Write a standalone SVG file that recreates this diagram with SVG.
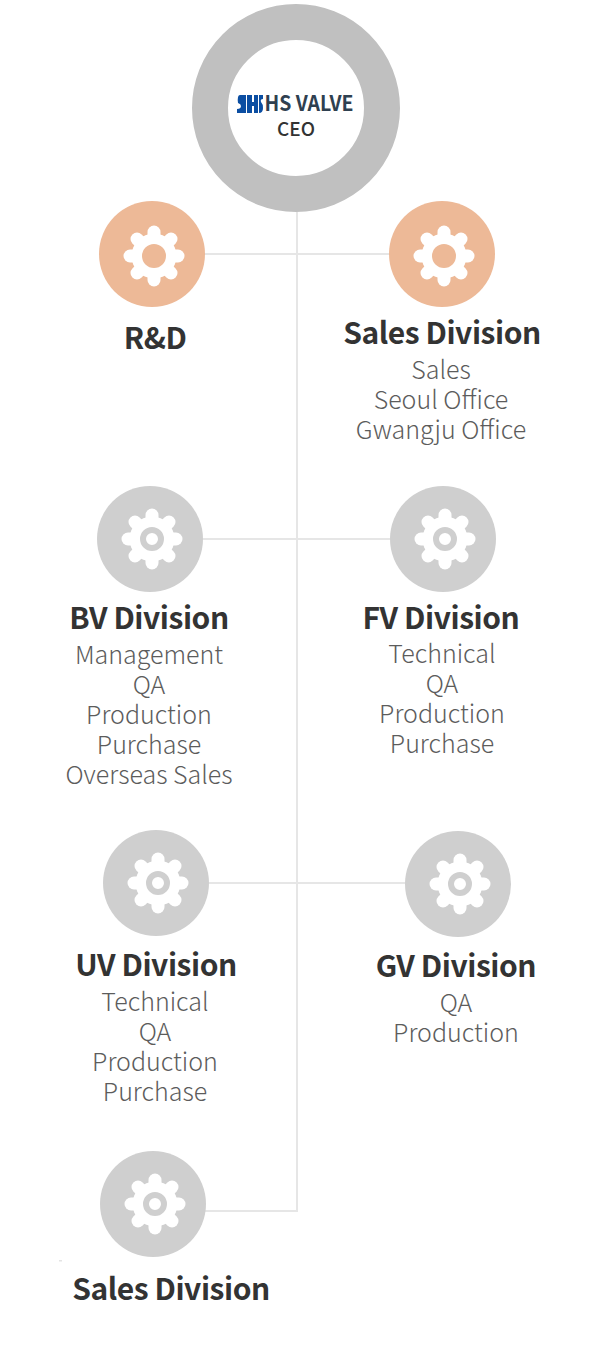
<svg xmlns="http://www.w3.org/2000/svg" xmlns:xlink="http://www.w3.org/1999/xlink" width="600" height="1350" viewBox="0 0 600 1350">
<style>
text{font-family:"Noto Sans CJK KR","Noto Sans",sans-serif;text-anchor:middle}
.t{font-size:30px;font-weight:700;fill:#333;letter-spacing:-.45px}
.s{font-size:25px;font-weight:300;fill:#5c5c5c}
.c{fill:none;stroke:#e6e6e6;stroke-width:2}
.o{fill:#edb997}.g{fill:#cfcfcf}
.h{fill:#fff;stroke:#cfcfcf;stroke-width:6}
</style>
<defs>
<g id="gear">
<circle r="22.500" fill="#fff"/>
<g stroke="#fff" stroke-width="13" stroke-linecap="round">
<line x1="-24" x2="24"/><line y1="-24" y2="24"/>
<line x1="-17" y1="-17" x2="17" y2="17"/><line x1="-17" y1="17" x2="17" y2="-17"/>
</g>
</g>
</defs>
<rect width="600" height="1350" fill="#fff"/>
<g id="connectors">
<path class="c" d="M297 205V1211H205"/>
<path class="c" d="M205 254H390"/>
<path class="c" d="M203 539H392"/>
<path class="c" d="M209 883H407"/>
</g>
<g id="ceo">
<circle cx="296" cy="108" r="86" fill="#fff" stroke="#c0c0c0" stroke-width="36"/>
<g id="logo-mark" fill="#0b4ea2">
<path d="M240 95h6v18h-9v-4q4 0 4-3q0-2-3-3q-1-8 2-8z"/>
<rect x="247" y="95" width="5" height="18"/>
<rect x="252" y="102" width="2" height="4"/>
<rect x="254" y="95" width="4" height="18"/>
<path d="M259 95h4v4q-3 0-2 3q2 2 2 6q0 5-4 5z"/>
</g>
<text x="309" y="111" font-size="21" font-weight="700" fill="#2f4050" textLength="89" lengthAdjust="spacingAndGlyphs">HS VALVE</text>
<text x="296" y="135.500" font-size="19" font-weight="500" fill="#333">CEO</text>
</g>
<g id="rd">
<circle class="o" cx="152" cy="254" r="53"/><use xlink:href="#gear" href="#gear" x="154" y="256"/><circle class="o" cx="154" cy="256" r="12"/>
<text class="t" x="155" y="349">R&amp;D</text>
</g>
<g id="sales-top">
<circle class="o" cx="442" cy="254" r="53"/><use xlink:href="#gear" href="#gear" x="444" y="256"/><circle class="o" cx="444" cy="256" r="12"/>
<text class="t" x="442" y="344">Sales Division</text>
<text class="s" x="441" y="379">Sales</text><text class="s" x="441" y="409">Seoul Office</text><text class="s" x="441" y="439">Gwangju Office</text>
</g>
<g id="bv">
<circle class="g" cx="150" cy="539" r="53"/><use xlink:href="#gear" href="#gear" x="152" y="539"/><circle class="h" cx="152" cy="539" r="9"/>
<text class="t" x="149" y="629">BV Division</text>
<text class="s" x="149" y="664">Management</text><text class="s" x="149" y="694">QA</text><text class="s" x="149" y="724">Production</text><text class="s" x="149" y="754">Purchase</text><text class="s" x="149" y="784">Overseas Sales</text>
</g>
<g id="fv">
<circle class="g" cx="443" cy="539" r="53"/><use xlink:href="#gear" href="#gear" x="445" y="539"/><circle class="h" cx="445" cy="539" r="9"/>
<text class="t" x="441" y="629">FV Division</text>
<text class="s" x="442" y="663">Technical</text><text class="s" x="442" y="693">QA</text><text class="s" x="442" y="723">Production</text><text class="s" x="442" y="753">Purchase</text>
</g>
<g id="uv">
<circle class="g" cx="156" cy="883" r="53"/><use xlink:href="#gear" href="#gear" x="158" y="883"/><circle class="h" cx="158" cy="883" r="9"/>
<text class="t" x="156" y="976">UV Division</text>
<text class="s" x="155" y="1011">Technical</text><text class="s" x="155" y="1041">QA</text><text class="s" x="155" y="1071">Production</text><text class="s" x="155" y="1101">Purchase</text>
</g>
<g id="gv">
<circle class="g" cx="458" cy="884" r="53"/><use xlink:href="#gear" href="#gear" x="460" y="884"/><circle class="h" cx="460" cy="884" r="9"/>
<text class="t" x="456" y="977">GV Division</text>
<text class="s" x="456" y="1012">QA</text><text class="s" x="456" y="1042">Production</text>
</g>
<g id="sales-bottom">
<circle class="g" cx="153" cy="1204" r="53"/><use xlink:href="#gear" href="#gear" x="155" y="1204"/><circle class="h" cx="155" cy="1204" r="9"/>
<text class="t" x="171" y="1300">Sales Division</text>
</g>
<rect x="59" y="1260" width="3" height="1.500" fill="#e4e4e4"/>
</svg>
